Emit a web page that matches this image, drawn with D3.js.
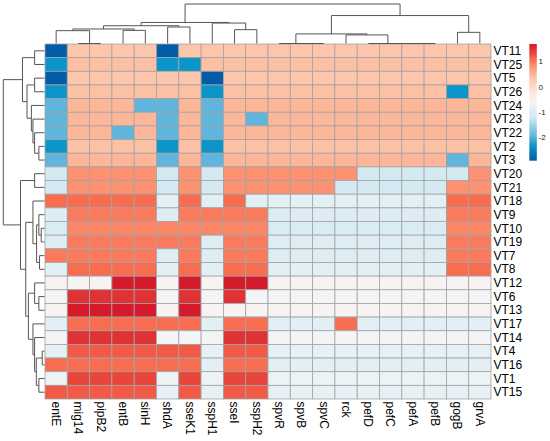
<!DOCTYPE html>
<html>
<head>
<meta charset="utf-8">
<script src="https://cdn.jsdelivr.net/npm/d3@7"></script>
<style>
  body { margin: 0; background: #fff; }
  text { font-family: "Liberation Sans", Arial, sans-serif; }
</style>
</head>
<body>
<div id="chart"></div>
<script>
// columns (genes) and rows (strains), in the order the clustering put them
var genes = ["entE", "mig14", "pipB2", "entB", "sinH", "shdA", "sseK1", "sspH1", "sseI", "sspH2",
             "spvR", "spvB", "spvC", "rck", "pefD", "pefC", "pefA", "pefB", "gogB", "grvA"];

var strains = ["VT11", "VT25", "VT5", "VT26", "VT24", "VT23", "VT22", "VT2", "VT3", "VT20",
               "VT21", "VT18", "VT9", "VT10", "VT19", "VT7", "VT8", "VT12", "VT6", "VT13",
               "VT17", "VT14", "VT4", "VT16", "VT1", "VT15"];

// gene present (1) / absent (0), one string per strain, in gene order
var presence = [
  "01111011111111111111", // VT11
  "01111001111111111111", // VT25
  "01111110111111111111", // VT5
  "01111110111111111101", // VT26
  "01110010111111111111", // VT24
  "01111010101111111111", // VT23
  "01101010111111111111", // VT22
  "01111010111111111111", // VT2
  "01111010111111111101", // VT3
  "01111010111111000001", // VT20
  "01111010111110000011", // VT21
  "11111010100000000011", // VT18
  "01111011110000000011", // VT9
  "01111111110000000011", // VT10
  "01111110110000000011", // VT19
  "11111010110000000011", // VT7
  "01111010110000000011", // VT8
  "00011010110000000000", // VT12
  "01111010100000000000", // VT6
  "01111010000000000000", // VT13
  "01111110110001000000", // VT17
  "01111000110000000000", // VT14
  "01111110110000000000", // VT4
  "11111110110000000000", // VT16
  "01111010110000000000", // VT1
  "11111010110000000000"  // VT15
];

// dendrograms: [left, right, height], leaves are names
var colTree = [
  [
    [[["entE", ["mig14", "pipB2", 0], 1.30], ["entB", "sinH", 1.33], 1.47], ["shdA", "sseK1", 1.67], 1.80],
    ["sspH1", ["sseI", "sspH2", 1.40], 2.07],
    2.13
  ],
  [
    [["spvR", ["spvB", "spvC", 0], 0], ["rck", ["pefD", ["pefC", ["pefA", "pefB", 0], 0], 0], 0.87], 0.97],
    ["gogB", "grvA", 1.13],
    2.83
  ],
  4.0
];

var rowTree = [
  [
    ["VT11", "VT25", 1.0],
    [["VT5", "VT26", 1.0], ["VT24", ["VT23", ["VT22", ["VT2", "VT3", 0.57], 1.0], 1.17], 1.33], 1.77],
    2.23
  ],
  [
    ["VT20", "VT21", 1.0],
    [
      ["VT18", [["VT9", ["VT10", "VT19", 0.33], 0.57], ["VT7", "VT8", 0.5], 0.8], 1.17],
      [["VT12", ["VT6", "VT13", 0.57], 1.0],
       ["VT17", ["VT14", [["VT4", "VT16", 0.23], ["VT1", "VT15", 0.57], 0.83], 1.0], 1.17], 1.63],
      1.9
    ],
    2.43
  ],
  4.17
];

var legendTicks = [1, 0, -1, -2];

// colour ramp, positions as a fraction of the value range
var rampAt = [0, 0.13, 0.21, 0.375, 0.46, 0.5, 0.6, 0.72, 0.81, 0.87, 0.92, 1];
var rampColors = ["#035ca8", "#0b95c8", "#5fb5dc", "#d4e9f2", "#e6f0f4", "#f5f5f5",
                  "#fbe4d8", "#fcc2a6", "#fc9070", "#f86a4f", "#e8463b", "#d51a2c"];

// scale each row (like pheatmap scale = "row")
var values = presence.map(function (s) {
  var v = s.split("").map(Number);
  var m = d3.mean(v), sd = d3.deviation(v);
  return v.map(function (d) { return (d - m) / sd; });
});

var cells = [];
values.forEach(function (row, i) {
  row.forEach(function (v, j) {
    cells.push({ strain: strains[i], gene: genes[j], value: v });
  });
});

var vmin = d3.min(cells, function (d) { return d.value; });
var vmax = d3.max(cells, function (d) { return d.value; });

var color = d3.scaleLinear()
  .domain(rampAt.map(function (t) { return vmin + t * (vmax - vmin); }))
  .range(rampColors)
  .interpolate(d3.interpolateRgb);

var W = 550, H = 441;
var heat = { left: 45, right: 491, top: 44, bottom: 399 };

var svg = d3.select("#chart").append("svg")
  .attr("width", W)
  .attr("height", H);

var x = d3.scaleBand().domain(genes).range([heat.left, heat.right]);
var y = d3.scaleBand().domain(strains).range([heat.top, heat.bottom]);

// heatmap
svg.append("g").selectAll("rect")
  .data(cells)
  .enter()
  .append("rect")
  .attr("x", function (d) { return x(d.gene); })
  .attr("y", function (d) { return y(d.strain); })
  .attr("width", x.bandwidth())
  .attr("height", y.bandwidth())
  .attr("fill", function (d) { return color(d.value); })
  .attr("stroke", "#a3a3a3")
  .attr("stroke-width", 0.8);

// dendrograms
function walk(node, pos, links) {
  if (typeof node === "string") return { p: pos(node), h: 0 };
  var a = walk(node[0], pos, links), b = walk(node[1], pos, links);
  links.push({ a: a, b: b, h: node[2] });
  return { p: (a.p + b.p) / 2, h: node[2] };
}

var colLinks = [];
walk(colTree, function (g) { return x(g) + x.bandwidth() / 2; }, colLinks);
var colH = d3.scaleLinear().domain([0, 4.0]).range([heat.top - 0.5, 4]);

svg.append("g").selectAll("path")
  .data(colLinks)
  .enter()
  .append("path")
  .attr("d", function (d) {
    return "M" + d.a.p + "," + colH(d.a.h) + "V" + colH(d.h) +
           "H" + d.b.p + "V" + colH(d.b.h);
  })
  .attr("fill", "none")
  .attr("stroke", "#555")
  .attr("stroke-width", 1);

var rowLinks = [];
walk(rowTree, function (s) { return y(s) + y.bandwidth() / 2; }, rowLinks);
var rowH = d3.scaleLinear().domain([0, 4.17]).range([heat.left - 0.5, 3.3]);

svg.append("g").selectAll("path")
  .data(rowLinks)
  .enter()
  .append("path")
  .attr("d", function (d) {
    return "M" + rowH(d.a.h) + "," + d.a.p + "H" + rowH(d.h) +
           "V" + d.b.p + "H" + rowH(d.b.h);
  })
  .attr("fill", "none")
  .attr("stroke", "#555")
  .attr("stroke-width", 1);

// labels
svg.append("g").selectAll("text")
  .data(strains)
  .enter()
  .append("text")
  .attr("x", heat.right + 2.5)
  .attr("y", function (d) { return y(d) + y.bandwidth() / 2; })
  .attr("dy", "0.35em")
  .attr("font-size", 12)
  .attr("fill", "#000")
  .text(function (d) { return d; });

svg.append("g").selectAll("text")
  .data(genes)
  .enter()
  .append("text")
  .attr("transform", function (d) {
    return "translate(" + (x(d) + x.bandwidth() / 2) + "," + (heat.bottom + 2.5) + ") rotate(90)";
  })
  .attr("dy", "0.35em")
  .attr("font-size", 12)
  .attr("fill", "#000")
  .text(function (d) { return d; });

// colour legend
var leg = { x: 529.3, w: 7.5, top: 44, bottom: 160.7 };
var legY = d3.scaleLinear().domain([vmin, vmax]).range([leg.bottom, leg.top]);

var grad = svg.append("defs").append("linearGradient")
  .attr("id", "ramp")
  .attr("x1", 0).attr("y1", 1).attr("x2", 0).attr("y2", 0);
grad.selectAll("stop")
  .data(rampAt)
  .enter()
  .append("stop")
  .attr("offset", function (t) { return t; })
  .attr("stop-color", function (t, i) { return rampColors[i]; });

svg.append("rect")
  .attr("x", leg.x)
  .attr("y", leg.top)
  .attr("width", leg.w)
  .attr("height", leg.bottom - leg.top)
  .attr("fill", "url(#ramp)");

svg.append("g").selectAll("text")
  .data(legendTicks)
  .enter()
  .append("text")
  .attr("x", leg.x + leg.w + 1.8)
  .attr("y", function (d) { return legY(d); })
  .attr("dy", "0.35em")
  .attr("font-size", 8)
  .attr("fill", "#222")
  .text(function (d) { return d; });
</script>
</body>
</html>
